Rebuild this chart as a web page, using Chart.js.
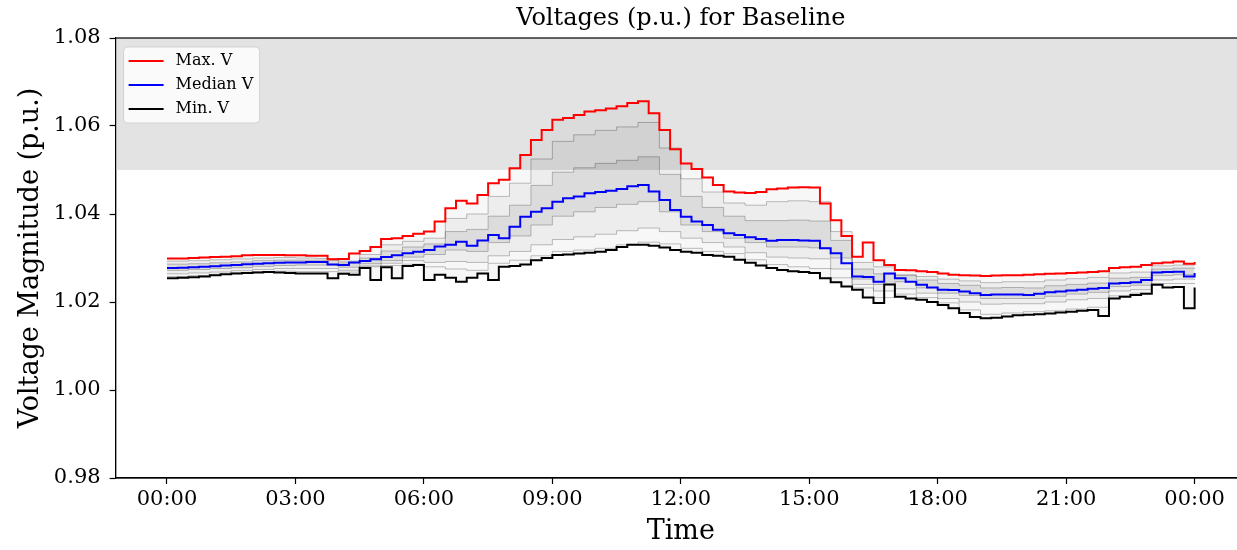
<!DOCTYPE html>
<html>
<head>
<meta charset="utf-8">
<script src="https://cdn.jsdelivr.net/npm/chart.js@4.4.0/dist/chart.umd.min.js"></script>
<style>
  html, body { margin: 0; padding: 0; background: #fff; overflow: hidden; }
  #wrap { width: 1260px; height: 550px; }
</style>
</head>
<body>
<div id="wrap"><canvas id="voltChart" width="1260" height="550"></canvas></div>
<script>
// voltage envelope for the baseline day
// time in hours since midnight, 15 min steps
const hours = [
  0, 0.25, 0.5, 0.75, 1, 1.25, 1.5, 1.75, 2, 2.25, 2.5, 2.75,
  3, 3.25, 3.5, 3.75, 4, 4.25, 4.5, 4.75, 5, 5.25, 5.5, 5.75,
  6, 6.25, 6.5, 6.75, 7, 7.25, 7.5, 7.75, 8, 8.25, 8.5, 8.75,
  9, 9.25, 9.5, 9.75, 10, 10.25, 10.5, 10.75, 11, 11.25, 11.5, 11.75,
  12, 12.25, 12.5, 12.75, 13, 13.25, 13.5, 13.75, 14, 14.25, 14.5, 14.75,
  15, 15.25, 15.5, 15.75, 16, 16.25, 16.5, 16.75, 17, 17.25, 17.5, 17.75,
  18, 18.25, 18.5, 18.75, 19, 19.25, 19.5, 19.75, 20, 20.25, 20.5, 20.75,
  21, 21.25, 21.5, 21.75, 22, 22.25, 22.5, 22.75, 23, 23.25, 23.5, 23.75,
  24
];

const maxV = [
  1.0299, 1.0299, 1.0300, 1.0301, 1.0302, 1.0303, 1.0304, 1.0306, 1.0307, 1.0307, 1.0307, 1.0306,
  1.0306, 1.0305, 1.0305, 1.0297, 1.0298, 1.0310, 1.0316, 1.0325, 1.0343, 1.0345, 1.0350, 1.0355,
  1.0360, 1.0383, 1.0413, 1.0430, 1.0424, 1.0443, 1.0470, 1.0478, 1.0504, 1.0534, 1.0568, 1.0591,
  1.0614, 1.0618, 1.0625, 1.0633, 1.0636, 1.0640, 1.0645, 1.0652, 1.0656, 1.0629, 1.0591, 1.0547,
  1.0515, 1.0502, 1.0483, 1.0466, 1.0451, 1.0449, 1.0448, 1.0450, 1.0456, 1.0458, 1.0460, 1.0461,
  1.0460, 1.0424, 1.0386, 1.0350, 1.0303, 1.0335, 1.0295, 1.0284, 1.0273, 1.0272, 1.0270, 1.0268,
  1.0265, 1.0262, 1.0261, 1.0260, 1.0259, 1.0260, 1.0261, 1.0261, 1.0262, 1.0263, 1.0264, 1.0265,
  1.0266, 1.0267, 1.0268, 1.0270, 1.0277, 1.0279, 1.0280, 1.0284, 1.0288, 1.0290, 1.0292, 1.0287,
  1.0291
];

const medianV = [
  1.0277, 1.0278, 1.0279, 1.0280, 1.0281, 1.0283, 1.0284, 1.0286, 1.0287, 1.0288, 1.0289, 1.0290,
  1.0290, 1.0291, 1.0291, 1.0285, 1.0284, 1.0290, 1.0293, 1.0297, 1.0302, 1.0306, 1.0311, 1.0314,
  1.0318, 1.0326, 1.0330, 1.0337, 1.0328, 1.0340, 1.0352, 1.0345, 1.0371, 1.0394, 1.0405, 1.0413,
  1.0428, 1.0436, 1.0440, 1.0447, 1.0450, 1.0453, 1.0457, 1.0463, 1.0466, 1.0451, 1.0432, 1.0409,
  1.0394, 1.0383, 1.0375, 1.0364, 1.0356, 1.0352, 1.0347, 1.0343, 1.0339, 1.0341, 1.0341, 1.0340,
  1.0339, 1.0322, 1.0311, 1.0288, 1.0258, 1.0257, 1.0246, 1.0265, 1.0254, 1.0246, 1.0239, 1.0233,
  1.0228, 1.0227, 1.0224, 1.0220, 1.0216, 1.0217, 1.0217, 1.0217, 1.0216, 1.0219, 1.0222, 1.0224,
  1.0226, 1.0228, 1.0230, 1.0232, 1.0242, 1.0243, 1.0245, 1.0250, 1.0267, 1.0268, 1.0269, 1.0258,
  1.0266
];

const minV = [
  1.0254, 1.0255, 1.0256, 1.0258, 1.0261, 1.0263, 1.0265, 1.0266, 1.0267, 1.0268, 1.0267, 1.0266,
  1.0265, 1.0265, 1.0265, 1.0254, 1.0264, 1.0262, 1.0277, 1.0250, 1.0279, 1.0254, 1.0282, 1.0284,
  1.0250, 1.0262, 1.0255, 1.0246, 1.0255, 1.0265, 1.0250, 1.0280, 1.0282, 1.0285, 1.0295, 1.0300,
  1.0307, 1.0308, 1.0310, 1.0312, 1.0314, 1.0318, 1.0325, 1.0330, 1.0330, 1.0328, 1.0324, 1.0318,
  1.0314, 1.0312, 1.0307, 1.0305, 1.0303, 1.0296, 1.0289, 1.0283, 1.0277, 1.0273, 1.0270, 1.0268,
  1.0266, 1.0254, 1.0245, 1.0235, 1.0228, 1.0210, 1.0198, 1.0240, 1.0212, 1.0208, 1.0205, 1.0200,
  1.0193, 1.0186, 1.0175, 1.0166, 1.0163, 1.0164, 1.0167, 1.0170, 1.0171, 1.0172, 1.0174, 1.0176,
  1.0178, 1.0180, 1.0182, 1.0168, 1.0208, 1.0212, 1.0216, 1.0219, 1.0239, 1.0233, 1.0234, 1.0186,
  1.0233
];

// a few of the individual bus traces (grey bundle), 30 min steps
const busHours = [
  0, 0.5, 1, 1.5, 2, 2.5, 3, 3.5, 4, 4.5, 5, 5.5, 6, 6.5, 7, 7.5,
  8, 8.5, 9, 9.5, 10, 10.5, 11, 11.5, 12, 12.5, 13, 13.5, 14, 14.5, 15, 15.5,
  16, 16.5, 17, 17.5, 18, 18.5, 19, 19.5, 20, 20.5, 21, 21.5, 22, 22.5, 23, 23.5,
  24
];
const bus1 = [
  1.0293, 1.0294, 1.0296, 1.0298, 1.0300, 1.0301, 1.0300, 1.0299,
  1.0293, 1.0308, 1.0330, 1.0338, 1.0345, 1.0390, 1.0400, 1.0440,
  1.0470, 1.0525, 1.0565, 1.0580, 1.0590, 1.0598, 1.0608, 1.0550,
  1.0480, 1.0450, 1.0425, 1.0420, 1.0428, 1.0430, 1.0428, 1.0360,
  1.0290, 1.0280, 1.0262, 1.0258, 1.0252, 1.0248, 1.0244, 1.0246,
  1.0246, 1.0250, 1.0253, 1.0256, 1.0266, 1.0268, 1.0282, 1.0284,
  1.0283
];
const bus2 = [
  1.0286, 1.0287, 1.0289, 1.0291, 1.0294, 1.0295, 1.0295, 1.0295,
  1.0289, 1.0300, 1.0316, 1.0325, 1.0332, 1.0360, 1.0365, 1.0395,
  1.0420, 1.0465, 1.0495, 1.0505, 1.0515, 1.0522, 1.0530, 1.0490,
  1.0440, 1.0415, 1.0395, 1.0385, 1.0385, 1.0386, 1.0384, 1.0340,
  1.0275, 1.0264, 1.0260, 1.0250, 1.0242, 1.0238, 1.0232, 1.0233,
  1.0232, 1.0237, 1.0240, 1.0243, 1.0254, 1.0256, 1.0275, 1.0277,
  1.0275
];
const bus3 = [
  1.0272, 1.0274, 1.0276, 1.0278, 1.0281, 1.0283, 1.0284, 1.0284,
  1.0279, 1.0287, 1.0294, 1.0302, 1.0308, 1.0318, 1.0315, 1.0335,
  1.0350, 1.0375, 1.0395, 1.0405, 1.0415, 1.0422, 1.0428, 1.0405,
  1.0375, 1.0360, 1.0345, 1.0335, 1.0325, 1.0325, 1.0323, 1.0300,
  1.0252, 1.0240, 1.0246, 1.0232, 1.0220, 1.0215, 1.0208, 1.0208,
  1.0208, 1.0213, 1.0218, 1.0222, 1.0235, 1.0238, 1.0260, 1.0262,
  1.0258
];
const bus4 = [
  1.0264, 1.0266, 1.0268, 1.0271, 1.0274, 1.0276, 1.0276, 1.0276,
  1.0272, 1.0282, 1.0288, 1.0294, 1.0290, 1.0292, 1.0290, 1.0305,
  1.0315, 1.0330, 1.0342, 1.0348, 1.0354, 1.0362, 1.0368, 1.0360,
  1.0345, 1.0335, 1.0325, 1.0312, 1.0302, 1.0300, 1.0298, 1.0275,
  1.0240, 1.0225, 1.0230, 1.0220, 1.0208, 1.0200, 1.0195, 1.0196,
  1.0196, 1.0200, 1.0205, 1.0208, 1.0225, 1.0228, 1.0250, 1.0252,
  1.0250
];
const bus5 = [
  1.0258, 1.0260, 1.0263, 1.0266, 1.0269, 1.0270, 1.0269, 1.0269,
  1.0268, 1.0280, 1.0283, 1.0286, 1.0280, 1.0275, 1.0272, 1.0288,
  1.0295, 1.0305, 1.0315, 1.0318, 1.0322, 1.0330, 1.0336, 1.0332,
  1.0322, 1.0315, 1.0310, 1.0296, 1.0285, 1.0280, 1.0276, 1.0255,
  1.0232, 1.0210, 1.0218, 1.0210, 1.0198, 1.0182, 1.0172, 1.0175,
  1.0178, 1.0180, 1.0184, 1.0188, 1.0214, 1.0220, 1.0242, 1.0242,
  1.0240
];

const tickHours = [0, 3, 6, 9, 12, 15, 18, 21, 24];
const tickLabels = ["00:00", "03:00", "06:00", "09:00", "12:00", "15:00", "18:00", "21:00", "00:00"];

// upper voltage limit band
const limitLow = 1.05;
const limitHigh = 1.08;

const serif = "'DejaVu Serif', serif";
const toXY = (xs, ys) => xs.map((x, i) => ({ x: x, y: ys[i] }));

const limitBand = {
  id: "limitBand",
  beforeDatasetsDraw(chart) {
    const { ctx, chartArea: a, scales } = chart;
    const top = scales.y.getPixelForValue(limitHigh);
    const bot = scales.y.getPixelForValue(limitLow);
    ctx.save();
    ctx.fillStyle = "#e3e3e3";
    ctx.fillRect(a.left, top, a.right - a.left, bot - top);
    ctx.restore();
  },
};

// matplotlib-like frame and legend in the upper left corner
const frameAndLegend = {
  id: "frameAndLegend",
  afterDraw(chart) {
    const { ctx, chartArea: a } = chart;
    ctx.save();
    ctx.strokeStyle = "#000";
    ctx.lineWidth = 1.2;
    ctx.strokeRect(a.left, a.top, a.right - a.left, a.bottom - a.top);

    const bx = a.left + 8, by = a.top + 9;
    ctx.fillStyle = "rgba(255,255,255,0.8)";
    ctx.strokeStyle = "rgba(204,204,204,0.8)";
    ctx.lineWidth = 1;
    ctx.beginPath();
    ctx.roundRect(bx, by, 136, 76, 4);
    ctx.fill();
    ctx.stroke();

    ctx.font = "16px " + serif;
    ctx.textBaseline = "middle";
    chart.data.datasets.slice(0, 3).forEach((ds, i) => {
      const ly = by + 14 + i * 24;
      ctx.strokeStyle = ds.borderColor;
      ctx.lineWidth = 2;
      ctx.beginPath();
      ctx.moveTo(bx + 5, ly);
      ctx.lineTo(bx + 40, ly);
      ctx.stroke();
      ctx.fillStyle = "#000";
      ctx.fillText(ds.label, bx + 52, ly);
    });
    ctx.restore();
  },
};

const busStyle = {
  borderColor: "rgba(0,0,0,0.25)",
  borderWidth: 1,
  pointRadius: 0,
  stepped: true,
};

new Chart(document.getElementById("voltChart"), {
  type: "line",
  data: {
    datasets: [
      { label: "Max. V", data: toXY(hours, maxV), borderColor: "#ff0000", borderWidth: 2, pointRadius: 0, stepped: true,
        fill: { target: 2 }, backgroundColor: "rgba(0,0,0,0.03)" },
      { label: "Median V", data: toXY(hours, medianV), borderColor: "#0000ff", borderWidth: 2, pointRadius: 0, stepped: true, fill: false },
      { label: "Min. V", data: toXY(hours, minV), borderColor: "#000000", borderWidth: 2, pointRadius: 0, stepped: true, fill: false },
      { label: "bus1", data: toXY(busHours, bus1), ...busStyle, fill: { target: 6 }, backgroundColor: "rgba(0,0,0,0.045)" },
      { label: "bus2", data: toXY(busHours, bus2), ...busStyle, fill: { target: 5 }, backgroundColor: "rgba(0,0,0,0.07)" },
      { label: "bus3", data: toXY(busHours, bus3), ...busStyle, fill: false },
      { label: "bus4", data: toXY(busHours, bus4), ...busStyle, fill: false },
      { label: "bus5", data: toXY(busHours, bus5), ...busStyle, fill: false },
    ],
  },
  options: {
    responsive: false,
    animation: false,
    layout: { padding: { top: 0, right: 14, bottom: 0, left: 10 } },
    plugins: {
      legend: { display: false },
      tooltip: { enabled: false },
      title: {
        display: true,
        text: "Voltages (p.u.) for Baseline",
        fullSize: false,
        color: "#000",
        font: { family: serif, size: 24, weight: "normal" },
        padding: { top: 4, bottom: 5.2 },
      },
    },
    scales: {
      x: {
        type: "linear",
        min: -1.2,
        max: 25.2,
        afterBuildTicks: (axis) => {
          axis.ticks = tickHours.map((h) => ({ value: h }));
        },
        afterFit: (scale) => {
          scale.height = 72;
        },
        ticks: {
          color: "#000",
          font: { family: serif, size: 21 },
          padding: 3,
          maxRotation: 0,
          autoSkip: false,
          callback: (value) => {
            const i = tickHours.indexOf(value);
            return i >= 0 ? tickLabels[i] : "";
          },
        },
        grid: { drawOnChartArea: false, drawTicks: true, tickLength: 6, tickColor: "#000", tickWidth: 1.2 },
        border: { display: true, color: "#000", width: 1.2 },
        title: {
          display: true,
          text: "Time",
          color: "#000",
          font: { family: serif, size: 27 },
          padding: { top: 0, bottom: 2 },
        },
      },
      y: {
        min: 0.98,
        max: 1.08,
        afterFit: (scale) => {
          scale.width = 105.6;
        },
        ticks: {
          stepSize: 0.02,
          color: "#000",
          font: { family: serif, size: 21 },
          padding: 9,
          callback: (value) => value.toFixed(2),
        },
        grid: { drawOnChartArea: false, drawTicks: true, tickLength: 6, tickColor: "#000", tickWidth: 1.2 },
        border: { display: true, color: "#000", width: 1.2 },
        title: {
          display: true,
          text: "Voltage Magnitude (p.u.)",
          color: "#000",
          font: { family: serif, size: 27 },
          padding: { top: 5, bottom: 0 },
        },
      },
    },
  },
  plugins: [limitBand, frameAndLegend],
});
</script>
</body>
</html>
